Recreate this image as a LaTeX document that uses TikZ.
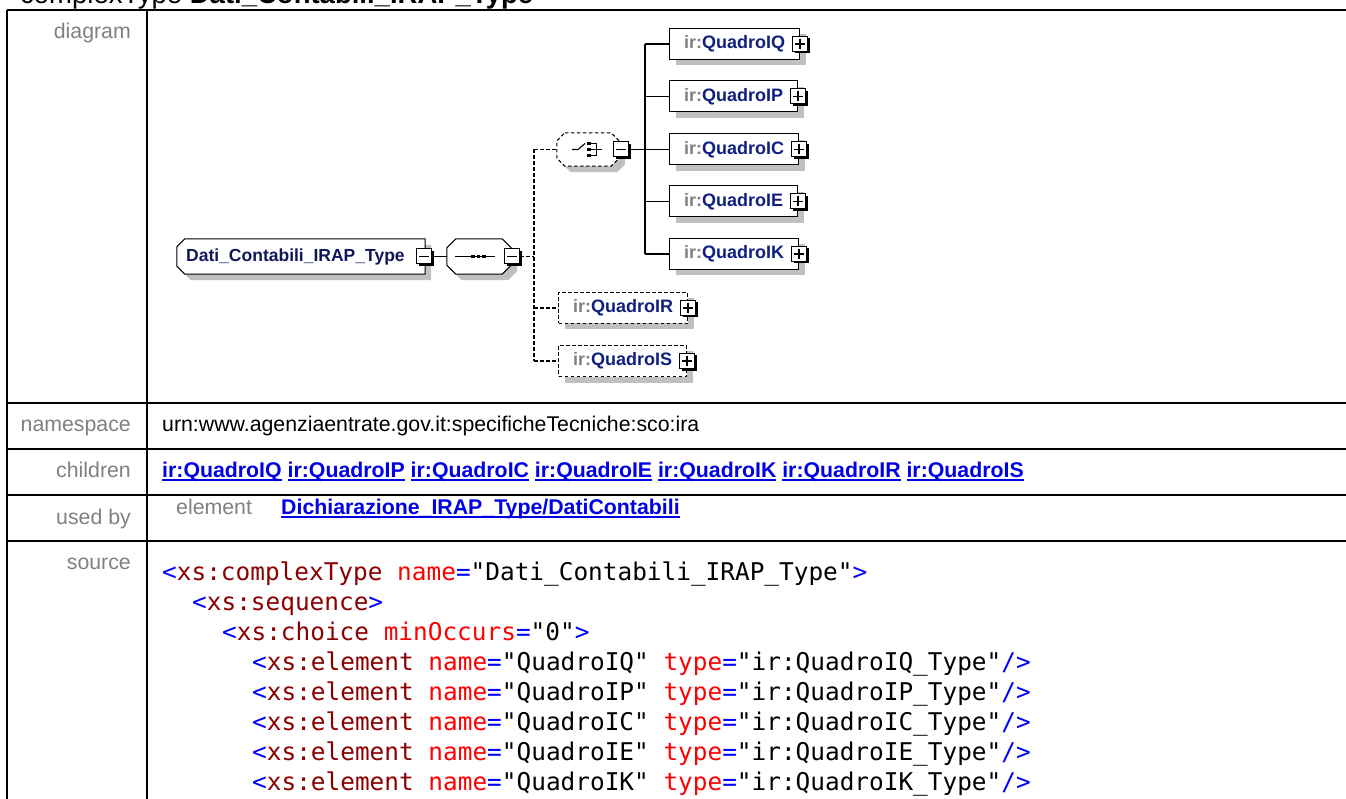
\documentclass[tikz,border=0pt]{standalone}
\usepackage{fontspec}
\setmainfont{Liberation Sans}
\setmonofont{DejaVu Sans Mono}
\usetikzlibrary{calc,shadows}
\definecolor{nsgray}{RGB}{128,128,128}
\definecolor{elblue}{RGB}{16,32,128}
\definecolor{rootblue}{RGB}{16,24,90}
\definecolor{lblgray}{RGB}{128,128,128}
\definecolor{lnkblue}{RGB}{0,0,230}
\definecolor{shgray}{RGB}{192,192,192}
\definecolor{tagblue}{RGB}{0,0,255}
\definecolor{elred}{RGB}{139,0,0}
\definecolor{attred}{RGB}{255,0,0}
\newcommand\lnk[1]{\setbox0\hbox{#1}\rlap{\rule[-3.6pt]{\wd0}{1.8pt}}\box0\relax}
\newcommand\tg[1]{\textcolor{tagblue}{#1}}
\newcommand\en[1]{\textcolor{elred}{#1}}
\newcommand\an[1]{\textcolor{attred}{#1}}
\newcommand\octshape[4]{($(#1.north west)+(#2+#3,#4)$) -- ($(#1.north east)+(-#2+#3,#4)$) -- ($(#1.north east)+(#3,#2+#4)$) -- ($(#1.south east)+(#3,-#2+#4)$) -- ($(#1.south east)+(-#2+#3,#4)$) -- ($(#1.south west)+(#2+#3,#4)$) -- ($(#1.south west)+(#3,-#2+#4)$) -- ($(#1.north west)+(#3,#2+#4)$) -- cycle}
\newcommand\rootshape[4]{($(#1.north west)+(#2+#3,#4)$) -- ($(#1.north east)+(#3,#4)$) -- ($(#1.south east)+(#3,#4)$) -- ($(#1.south west)+(#2+#3,#4)$) -- ($(#1.south west)+(#3,-#2+#4)$) -- ($(#1.north west)+(#3,#2+#4)$) -- cycle}
\tikzset{
  tbl/.style={line width=2pt, black},
  lbl/.style={font=\fontsize{21.3}{24}\selectfont, text=lblgray, inner sep=0},
  txt/.style={font=\fontsize{21.3}{24}\selectfont, inner sep=0},
  lnktxt/.style={font=\fontsize{21.3}{24}\selectfont\bfseries, text=lnkblue, inner sep=0},
  src/.style={font=\fontsize{24.4}{28}\ttfamily, inner sep=0, anchor=base west},
  holder/.style={inner sep=0, draw=none},
  elbox/.style={draw=black, line width=1pt, fill=white, minimum height=31, inner xsep=14.5, inner ysep=0, anchor=west,
    font=\fontsize{18}{20}\selectfont\bfseries,
    drop shadow={shadow xshift=6pt, shadow yshift=-6pt, fill=shgray, opacity=1}},
  optbox/.style={elbox, dash pattern=on 3.5pt off 2.5pt},
  pmbox/.style={draw=black, fill=white, line width=1pt, minimum size=15, inner sep=0,
    drop shadow={shadow xshift=2pt, shadow yshift=-2pt, fill=black, opacity=1}},
  pmminus/.style={pmbox, path picture={\draw[line width=1.3pt] ($(path picture bounding box.west)+(2.5,0)$) -- ($(path picture bounding box.east)+(-2.5,0)$);}},
  pmplus/.style={pmbox, path picture={\draw[line width=1.3pt] ($(path picture bounding box.west)+(2.5,0)$) -- ($(path picture bounding box.east)+(-2.5,0)$);
     \draw[line width=1.3pt] ($(path picture bounding box.north)+(0,2.5)$) -- ($(path picture bounding box.south)+(0,-2.5)$);}},
  conn/.style={line width=1.2pt, black},
  dconn/.style={line width=1.2pt, black, dash pattern=on 3.5pt off 2.5pt},
  shape line/.style={line width=1pt, black, fill=white},
}
\begin{document}
\begin{tikzpicture}[x=1pt,y=-1pt]
\useasboundingbox (0,0) rectangle (1346,799);
\clip (0,0) rectangle (1346,799);
\fill[white] (0,0) rectangle (1346,799);

% title (cut off at top)
\node[anchor=base west, inner sep=0, font=\fontsize{27.5}{30}\selectfont] (title) at (20,3.5) {complexType \textbf{Dati\_Contabili\_IRAP\_Type}};

% table
\draw[tbl] (7,10) -- (1350,10);
\draw[tbl] (7,10) -- (7,805);
\draw[tbl] (147,10) -- (147,805);
\draw[tbl] (7,402.5) -- (1350,402.5);
\draw[tbl] (7,449) -- (1350,449);
\draw[tbl] (7,494.5) -- (1350,494.5);
\draw[tbl] (7,541) -- (1350,541);

\node[lbl, anchor=base east] (ldiag) at (131,38.5) {diagram};
\node[lbl, anchor=base east] (lns) at (131,431.5) {namespace};
\node[lbl, anchor=base east] (lch) at (131,477.5) {children};
\node[lbl, anchor=base east] (lub) at (131,524.5) {used by};
\node[lbl, anchor=base east] (lsrc) at (131,569.5) {source};

\node[txt, anchor=base west] (ns) at (162,431.5) {urn:www.agenziaentrate.gov.it:specificheTecniche:sco:ira};
\node[lnktxt, anchor=base west] (chl) at (162,477.5) {\lnk{ir:QuadroIQ} \lnk{ir:QuadroIP} \lnk{ir:QuadroIC} \lnk{ir:QuadroIE} \lnk{ir:QuadroIK} \lnk{ir:QuadroIR} \lnk{ir:QuadroIS}};
\node[lbl, anchor=base west] (uel) at (176,514.5) {element};
\node[lnktxt, anchor=base west] (ulk) at (281,514.5) {\lnk{Dichiarazione\_IRAP\_Type/DatiContabili}};

% source
\node[src] (s1) at (162,580) {\tg{<}\en{xs:complexType} \an{name}\tg{=}"Dati\_Contabili\_IRAP\_Type"\tg{>}};
\node[src] (s2) at (192,610) {\tg{<}\en{xs:sequence}\tg{>}};
\node[src] (s3) at (222,640) {\tg{<}\en{xs:choice} \an{minOccurs}\tg{=}"0"\tg{>}};
\node[src] (s4) at (252,670) {\tg{<}\en{xs:element} \an{name}\tg{=}"QuadroIQ" \an{type}\tg{=}"ir:QuadroIQ\_Type"\tg{/>}};
\node[src] (s5) at (252,700) {\tg{<}\en{xs:element} \an{name}\tg{=}"QuadroIP" \an{type}\tg{=}"ir:QuadroIP\_Type"\tg{/>}};
\node[src] (s6) at (252,730) {\tg{<}\en{xs:element} \an{name}\tg{=}"QuadroIC" \an{type}\tg{=}"ir:QuadroIC\_Type"\tg{/>}};
\node[src] (s7) at (252,760) {\tg{<}\en{xs:element} \an{name}\tg{=}"QuadroIE" \an{type}\tg{=}"ir:QuadroIE\_Type"\tg{/>}};
\node[src] (s8) at (252,790) {\tg{<}\en{xs:element} \an{name}\tg{=}"QuadroIK" \an{type}\tg{=}"ir:QuadroIK\_Type"\tg{/>}};

% ---------- diagram ----------
\node[holder, minimum width=248, minimum height=35] (root) at (301,256.5) {};
\node[holder, minimum width=64, minimum height=35] (seq) at (479,256.5) {};
\node[holder, minimum width=62, minimum height=33] (choice) at (588,149.5) {};

% shadows + outlines
\fill[shgray] \rootshape{root}{8}{6}{6};
\draw[shape line] \rootshape{root}{8}{0}{0};
\fill[shgray] \octshape{seq}{9}{6}{6};
\draw[shape line] \octshape{seq}{9}{0}{0};
\fill[shgray] \octshape{choice}{8}{6}{6};
\draw[shape line, dash pattern=on 3.5pt off 2.5pt] \octshape{choice}{8}{0}{0};

\node[anchor=west, inner sep=0, font=\fontsize{17.5}{20}\selectfont\bfseries, text=rootblue] (roottxt) at (186,256.5) {Dati\_Contabili\_IRAP\_Type};

% sequence symbol
\draw[line width=1.2pt] ($(seq.center)+(-24,0)$) -- ($(seq.center)+(16,0)$);
\foreach \dx in {-6,-0.5,5} \fill ($(seq.center)+(\dx-1.9,-1.9)$) rectangle ($(seq.center)+(\dx+1.9,1.9)$);

% choice symbol
\draw[line width=1.1pt] ($(choice.center)+(-16,0)$) -- ($(choice.center)+(-10,0)$) -- ($(choice.center)+(-3,-6)$);
\foreach \dy in {-6,0,6} \fill ($(choice.center)+(-1,\dy-1.9)$) rectangle ($(choice.center)+(2.8,\dy+1.9)$);
\draw[line width=1pt] ($(choice.center)+(2.8,-6)$) -- ($(choice.center)+(8,-6)$) -- ($(choice.center)+(8,6)$) -- ($(choice.center)+(2.8,6)$);
\draw[line width=1pt] ($(choice.center)+(2.8,0)$) -- ($(choice.center)+(14,0)$);

% elements
\node[elbox] (iq) at (669,44) {\textcolor{nsgray}{ir:}\textcolor{elblue}{QuadroIQ}\hspace{2pt}};
\node[elbox] (ip) at (669,96.5) {\textcolor{nsgray}{ir:}\textcolor{elblue}{QuadroIP}\hspace{2pt}};
\node[elbox] (ic) at (669,149.5) {\textcolor{nsgray}{ir:}\textcolor{elblue}{QuadroIC}\hspace{2pt}};
\node[elbox] (ie) at (669,201.5) {\textcolor{nsgray}{ir:}\textcolor{elblue}{QuadroIE}\hspace{2pt}};
\node[elbox] (ik) at (669,254) {\textcolor{nsgray}{ir:}\textcolor{elblue}{QuadroIK}\hspace{2pt}};
\node[optbox] (ir) at (558,308) {\textcolor{nsgray}{ir:}\textcolor{elblue}{QuadroIR}\hspace{2pt}};
\node[optbox] (is) at (558,361) {\textcolor{nsgray}{ir:}\textcolor{elblue}{QuadroIS}\hspace{2pt}};

% plus / minus boxes
\node[pmminus] (rootpm) at ($(root.east)+(-1,0)$) {};
\node[pmminus] (seqpm) at ($(seq.east)+(1,0)$) {};
\node[pmminus] (choicepm) at ($(choice.east)+(2,0)$) {};
\foreach \e in {iq,ip,ic,ie,ik,ir,is} \node[pmplus] (\e pm) at (\e.east) {};

% junctions
\coordinate (j1) at (534,256.5);
\coordinate (j2) at (645,149.5);

% connectors
\draw[conn] (rootpm.east) -- (seq.west);
\draw[dconn] (seqpm.east) -- (j1);
\draw[dconn] (choice.west -| j1) -- (is.west -| j1);
\draw[dconn] (choice.west -| j1) -- (choice.west);
\draw[dconn] (ir.west -| j1) -- (ir.west);
\draw[dconn] (is.west -| j1) -- (is.west);
\draw[conn] (choicepm.east) -- (j2);
\draw[conn] (iq.west -| j2) -- (ik.west -| j2);
\foreach \e in {iq,ip,ic,ie,ik} \draw[conn] (\e.west -| j2) -- (\e.west);
\end{tikzpicture}
\end{document}
